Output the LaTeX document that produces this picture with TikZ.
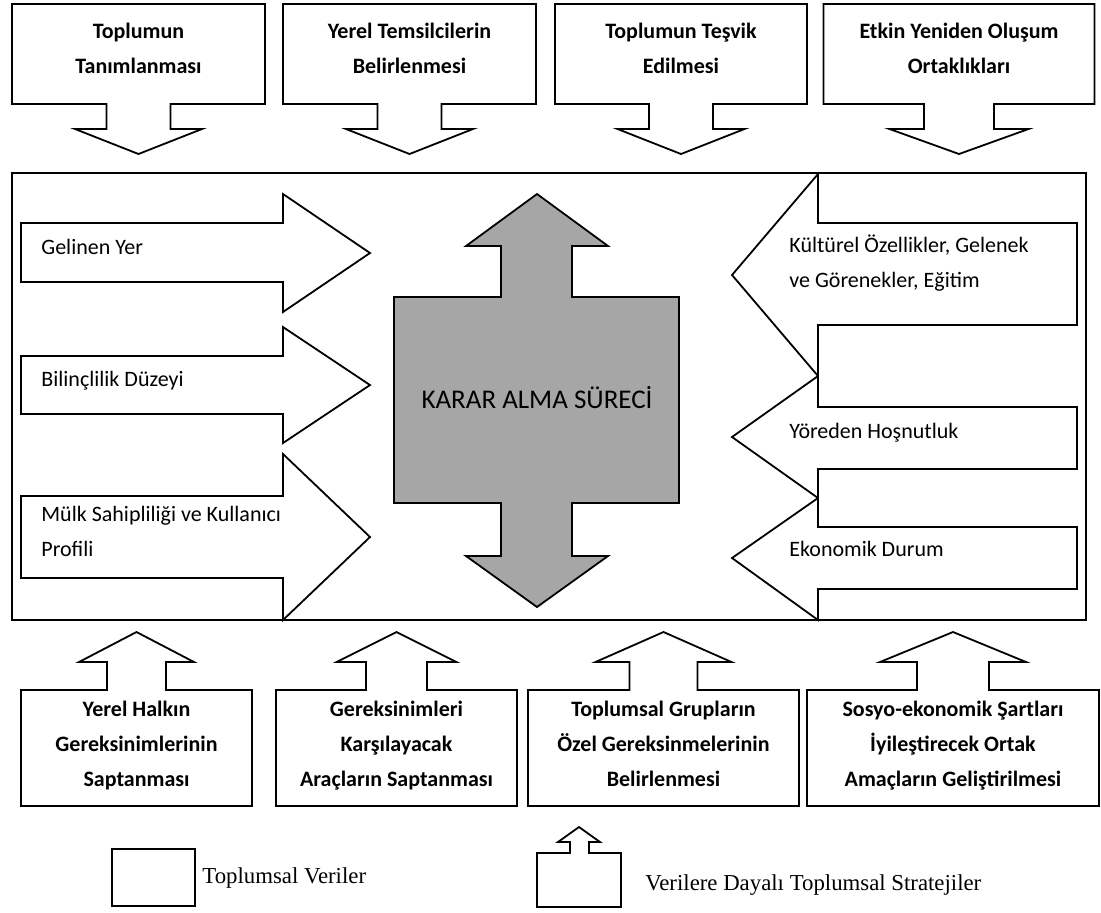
\documentclass[tikz,border=0pt]{standalone}
\usepackage{fontspec}
\setmainfont{Carlito}
\newfontfamily\legendfont{Liberation Serif}
\usetikzlibrary{positioning}
\definecolor{karargray}{RGB}{166,166,166}

\tikzset{
  shapeline/.style={draw=black, line width=0.9pt, line join=miter, fill=white},
  boldlabel/.style={font=\fontsize{11}{17.5}\selectfont\bfseries, align=center, inner sep=0pt,
    execute at begin node=\strut, execute at end node=\strut},
  arrowlabel/.style={font=\fontsize{11}{17.5}\selectfont, align=left, anchor=west, inner sep=0pt,
    execute at begin node=\strut, execute at end node=\strut},
  legendlabel/.style={font=\legendfont\fontsize{11.4}{13}\selectfont, anchor=west, inner sep=0pt},
}

\begin{document}
\begin{tikzpicture}[x=0.5pt, y=-0.5pt]
  \useasboundingbox (0,0) rectangle (1101,912);

  % ust kutular (merkez / kutu / govde / uc yari genislikleri)
  \foreach \c/\w/\s/\h/\name/\txt in {
      138.5/126.5/32/63.5/tanim/{Toplumun\\Tanımlanması},
      409.5/126.5/32/63.5/temsil/{Yerel Temsilcilerin\\Belirlenmesi},
      681/126/32/63.5/tesvik/{Toplumun Teşvik\\Edilmesi},
      959/135.5/35/69.5/ortak/{Etkin Yeniden Oluşum\\Ortaklıkları}}{
    \draw[shapeline] (\c-\w,4) -- (\c+\w,4) -- (\c+\w,104) -- (\c+\s,104)
      -- (\c+\s,129) -- (\c+\h,129) -- (\c,154) -- (\c-\h,129) -- (\c-\s,129)
      -- (\c-\s,104) -- (\c-\w,104) -- cycle;
    \node[boldlabel] (\name) at (\c,54) {\txt};
  }

  % ana cerceve
  \draw[line width=0.9pt] (12,173) rectangle (1086,620);

  % sol oklar
  \foreach \bt/\bb/\ht/\hb/\tp in {223/282/194/312/253, 356/414/327/443/385, 496/578/454/620/537}{
    \draw[shapeline] (21,\bt) -- (283,\bt) -- (283,\ht) -- (370,\tp)
      -- (283,\hb) -- (283,\bb) -- (21,\bb) -- cycle;
  }
  \node[arrowlabel] (yer) at (41,247) {Gelinen Yer};
  \node[arrowlabel] (bilinc) at (41,379) {Bilinçlilik Düzeyi};
  \node[arrowlabel] (mulk) at (41,537) {Mülk Sahipliliği ve Kullanıcı\\Profili};

  % sag oklar
  \foreach \bt/\bb/\ht/\hb/\tp in {223/325/174/376/275, 407/469/376/498/437, 527/589/498/620/558}{
    \draw[shapeline] (1077,\bt) -- (818,\bt) -- (818,\ht) -- (732,\tp)
      -- (818,\hb) -- (818,\bb) -- (1077,\bb) -- cycle;
  }
  \node[arrowlabel] (kultur) at (789,266) {Kültürel Özellikler, Gelenek\\ve Görenekler, Eğitim};
  \node[arrowlabel] (hosnut) at (789,431) {Yöreden Hoşnutluk};
  \node[arrowlabel] (ekonomi) at (789,549) {Ekonomik Durum};

  % karar alma sureci
  \draw[shapeline, fill=karargray] (537,194) -- (608,246) -- (572,246) -- (572,297)
    -- (679,297) -- (679,503) -- (572,503) -- (572,556) -- (608,556) -- (537,607)
    -- (466,556) -- (501,556) -- (501,503) -- (394,503) -- (394,297) -- (501,297)
    -- (501,246) -- (466,246) -- cycle;
  \node[font=\fontsize{13.5}{16}\selectfont, inner sep=0pt] (karar) at (537,398) {KARAR ALMA SÜRECİ};

  % alt kutular
  \foreach \c/\w/\s/\h/\name/\txt in {
      136.5/115.5/29.5/57.5/halk/{Yerel Halkın\\Gereksinimlerinin\\Saptanması},
      396.5/120.5/30.5/60/arac/{Gereksinimleri\\Karşılayacak\\Araçların Saptanması},
      663.5/135.5/34/68/grup/{Toplumsal Grupların\\Özel Gereksinmelerinin\\Belirlenmesi},
      953/146/36/73/amac/{Sosyo-ekonomik Şartları\\İyileştirecek Ortak\\Amaçların Geliştirilmesi}}{
    \draw[shapeline] (\c-\w,806) -- (\c+\w,806) -- (\c+\w,690) -- (\c+\s,690)
      -- (\c+\s,662) -- (\c+\h,662) -- (\c,632) -- (\c-\h,662) -- (\c-\s,662)
      -- (\c-\s,690) -- (\c-\w,690) -- cycle;
    \node[boldlabel] (\name) at (\c,749) {\txt};
  }

  % lejant
  \draw[shapeline] (112,849) rectangle (195,906);
  \node[legendlabel] (veri) at (202,878) {Toplumsal Veriler};
  \draw[shapeline] (537,853) -- (570,853) -- (570,842) -- (558,842) -- (579,827)
    -- (600,842) -- (589,842) -- (589,853) -- (621,853) -- (621,907) -- (537,907) -- cycle;
  \node[legendlabel] (strateji) at (645,885) {Verilere Dayalı Toplumsal Stratejiler};
\end{tikzpicture}
\end{document}
